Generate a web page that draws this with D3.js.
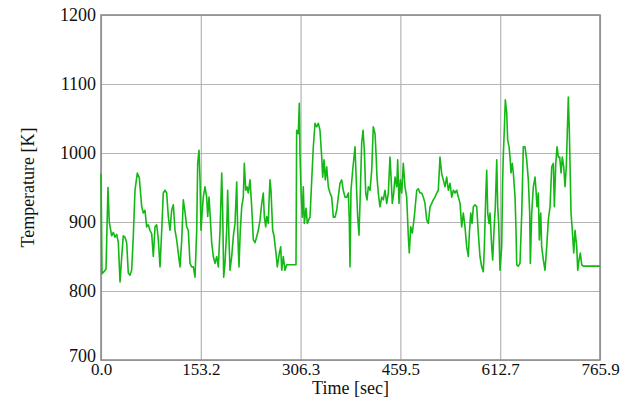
<!DOCTYPE html>
<html lang="en">
  <head>
    <meta charset="UTF-8" />
    <title>Temperature trace</title>
    <style>
      body {
        margin: 0;
        background: #fff;
      }
      svg text {
        font-family: "Liberation Serif", "Times New Roman", serif;
        fill: #111;
      }
      .grid line {
        stroke: #b4b4b4;
        stroke-width: 1.2;
      }
      .grid path {
        display: none;
      }
      .trace {
        fill: none;
        stroke: #14b814;
        stroke-width: 1.6;
        stroke-linejoin: round;
      }
    </style>
    <script src="https://cdn.jsdelivr.net/npm/d3@7"></script>
  </head>
  <body>
    <div class="chart"></div>
    <script>
      // time [sec]
      const times = [
        0.0, 1.5, 4.6, 7.7, 10.7, 12.7, 16.4, 18.9, 21.5, 24.1, 26.6, 29.2, 31.8, 34.2, 36.8, 39.4,
        41.9, 44.5, 47.1, 49.6, 52.2, 55.7, 58.8, 62.5, 64.9, 67.5, 70.1, 72.6, 75.2, 77.8, 80.3,
        82.9, 85.5, 88.0, 90.6, 93.2, 95.6, 98.2, 100.8, 103.3, 105.9, 108.5, 111.0, 113.6, 116.2,
        118.6, 121.3, 123.9, 126.3, 128.9, 131.5, 134.0, 136.6, 139.2, 141.7, 144.3, 146.9, 148.4,
        150.4, 152.0, 153.5, 155.5, 157.0, 159.6, 162.2, 163.8, 165.8, 167.3, 169.9, 172.4, 175.0,
        177.6, 180.1, 182.7, 185.3, 186.8, 188.3, 190.3, 192.9, 194.4, 196.5, 198.0, 200.6, 203.1,
        205.7, 208.3, 209.8, 211.8, 213.8, 216.0, 218.4, 220.0, 222.1, 224.1, 226.1, 228.7, 231.3,
        233.8, 236.4, 239.0, 241.5, 244.1, 246.7, 249.1, 250.7, 252.8, 254.3, 256.8, 257.9, 259.4,
        260.9, 263.5, 265.5, 268.6, 270.6, 273.7, 275.8, 277.4, 279.8, 282.4, 285.0, 290.1, 294.7,
        299.3, 300.3, 302.8, 304.4, 305.4, 307.0, 309.0, 310.5, 312.1, 314.7, 316.7, 318.8, 320.8,
        323.4, 325.9, 328.5, 331.1, 333.6, 336.1, 338.8, 340.3, 342.3, 344.3, 346.4, 348.9, 351.5,
        354.1, 356.6, 359.2, 361.8, 364.2, 366.8, 369.4, 371.9, 374.5, 377.1, 379.6, 381.1, 382.2,
        383.7, 386.3, 389.9, 392.5, 394.0, 396.0, 398.0, 400.1, 402.2, 404.2, 406.3, 408.3, 410.3,
        412.9, 415.5, 417.9, 420.6, 422.1, 423.6, 425.6, 428.2, 430.9, 433.3, 435.9, 438.5, 441.0,
        443.6, 445.2, 447.1, 449.3, 451.3, 453.9, 455.4, 457.4, 459.4, 461.6, 464.0, 466.6, 469.2,
        471.7, 473.2, 475.4, 477.8, 480.9, 484.6, 487.1, 489.6, 492.3, 494.7, 497.3, 499.9, 502.4,
        505.0, 507.6, 510.0, 512.7, 515.3, 517.7, 520.3, 522.9, 525.4, 528.0, 530.6, 533.1, 535.7,
        538.3, 540.8, 543.4, 546.0, 548.5, 551.1, 553.6, 556.1, 558.7, 561.3, 563.8, 565.4, 567.5,
        569.5, 571.5, 574.1, 576.7, 579.1, 581.7, 584.3, 586.8, 588.4, 590.5, 592.0, 593.6, 595.5,
        597.1, 599.7, 601.2, 603.2, 605.2, 607.4, 608.9, 610.4, 612.4, 615.0, 616.5, 617.4, 619.0,
        620.6, 622.7, 624.2, 626.3, 627.8, 629.3, 631.3, 632.9, 635.5, 637.0, 638.1, 640.5, 643.1,
        645.8, 648.2, 650.8, 653.4, 655.9, 658.0, 659.0, 661.1, 663.6, 666.2, 667.7, 669.2, 671.2,
        672.8, 674.9, 676.4, 678.9, 681.5, 684.1, 686.6, 689.2, 691.8, 694.3, 695.8, 698.0, 700.0,
        702.0, 704.1, 706.1, 708.1, 710.2, 712.2, 714.2, 715.8, 717.3, 718.8, 720.4, 721.4, 723.4,
        725.6, 727.6, 730.2, 731.7, 733.7, 735.7, 737.9, 740.3, 765.9
      ];

      // temperature [K]
      const temps = [
        970, 825, 828, 832, 950, 900, 880, 885, 878, 882, 870, 813, 850, 880, 878, 870,
        826, 823, 830, 880, 946, 971, 964, 922, 913, 917, 893, 896, 888, 883, 850,
        893, 896, 874, 835, 888, 942, 946, 942, 908, 888, 917, 925, 888, 874,
        855, 835, 874, 932, 915, 893, 888, 840, 835, 835, 820, 888, 985,
        1004, 961, 888, 917, 936, 951, 936, 908, 936, 913, 870, 850, 840,
        850, 835, 888, 971, 913, 820, 840, 888, 946, 874, 830, 850, 879,
        898, 958, 888, 835, 888, 922, 936, 985, 946, 951, 942, 961, 922,
        874, 870, 879, 888, 903, 927, 942, 908, 893, 908, 898, 930, 961,
        946, 888, 880, 855, 835, 855, 864, 830, 850, 830, 838, 838, 838,
        838, 1033, 1028, 1072, 1000, 946, 907, 951, 898, 920, 898, 903, 907,
        960, 1009, 1043, 1038, 1043, 1033, 994, 965, 990, 961, 980, 951, 942,
        936, 907, 907, 917, 936, 956, 961, 946, 936, 936, 942, 903, 835,
        946, 975, 1009, 942, 907, 881, 942, 1014, 1033, 1004, 942, 932, 951,
        946, 975, 1038, 1028, 1000, 965, 942, 922, 936, 932, 946, 927, 942,
        994, 965, 927, 942, 965, 951, 990, 927, 961, 942, 985, 951, 936,
        879, 855, 893, 884, 908, 946, 948, 942, 942, 936, 927, 903, 898,
        922, 927, 932, 936, 942, 946, 994, 970, 961, 951, 965, 946, 956,
        936, 946, 942, 946, 936, 927, 893, 913, 893, 864, 850, 884, 913,
        898, 922, 925, 922, 884, 850, 835, 828, 864, 936, 975, 913, 898,
        913, 864, 845, 888, 922, 990, 922, 898, 830, 864, 961, 994, 1033,
        1077, 1058, 1019, 1009, 994, 971, 985, 971, 936, 888, 838, 836, 840,
        913, 1009, 1009, 990, 961, 913, 840, 913, 951, 965, 946, 922, 942,
        874, 913, 864, 845, 830, 864, 903, 922, 980, 985, 922, 985, 1009,
        994, 994, 971, 994, 980, 951, 980, 1033, 1081, 1033, 961, 913, 888,
        855, 888, 864, 830, 845, 855, 838, 836, 836
      ];

      const xTicks = [0.0, 153.2, 306.3, 459.5, 612.7, 765.9];
      const yTicks = [700, 800, 900, 1000, 1100, 1200];

      const W = 625,
        H = 403;
      const margin = { top: 15, right: 25, bottom: 43, left: 101 };
      const width = W - margin.left - margin.right;
      const height = H - margin.top - margin.bottom;

      const svg = d3
        .select(".chart")
        .append("svg")
        .attr("width", W)
        .attr("height", H);

      const g = svg
        .append("g")
        .attr("transform", "translate(" + margin.left + "," + margin.top + ")");

      const x = d3.scaleLinear().domain([0, 765.9]).range([0, width]);
      const y = d3.scaleLinear().domain([700, 1200]).range([height, 0]);

      // grid + tick labels
      const yAxis = g
        .append("g")
        .attr("class", "grid")
        .call(
          d3
            .axisLeft(y)
            .tickValues(yTicks)
            .tickSize(-width)
            .tickPadding(5)
            .tickFormat(d3.format("d"))
        );
      yAxis.selectAll("text").style("font-size", "18px");
      // bottom label sits a bit higher so it clears the 0.0 below it
      yAxis
        .selectAll(".tick")
        .filter((d) => d === 700)
        .select("text")
        .attr("dy", "0.1em");

      const xAxis = g
        .append("g")
        .attr("class", "grid")
        .attr("transform", "translate(0," + height + ")")
        .call(
          d3
            .axisBottom(x)
            .tickValues(xTicks)
            .tickSize(-height)
            .tickPadding(3)
            .tickFormat(d3.format(".1f"))
        );
      xAxis.selectAll("text").style("font-size", "17px");

      // frame
      g.append("rect")
        .attr("width", width)
        .attr("height", height)
        .attr("fill", "none")
        .attr("stroke", "#8c8c8c")
        .attr("stroke-width", 1.6);

      const data = times.map((t, i) => ({ t: t, v: temps[i] }));

      const line = d3
        .line()
        .x((d) => x(d.t))
        .y((d) => y(d.v));

      g.append("path").datum(data).attr("class", "trace").attr("d", line);

      // axis titles
      svg
        .append("text")
        .attr("x", margin.left + width / 2)
        .attr("y", 394)
        .attr("text-anchor", "middle")
        .style("font-size", "18px")
        .text("Time [sec]");

      svg
        .append("text")
        .attr("transform", "translate(34," + (margin.top + height / 2) + ") rotate(-90)")
        .attr("text-anchor", "middle")
        .style("font-size", "18px")
        .text("Temperature [K]");
    </script>
  </body>
</html>
